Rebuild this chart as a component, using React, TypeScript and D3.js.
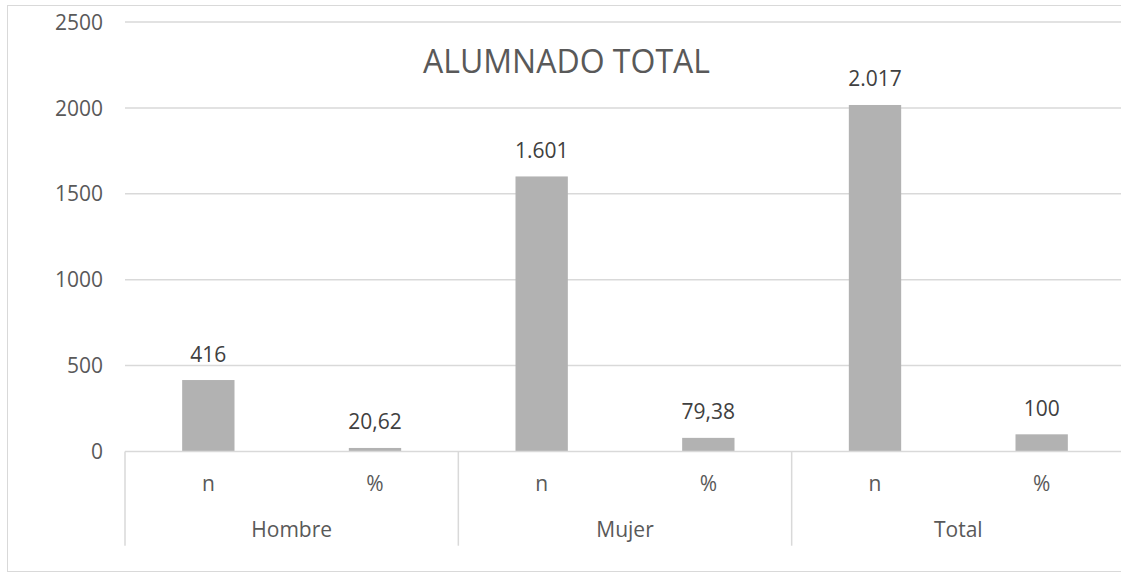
import React from 'react';
import * as d3 from 'd3';

// chart data
const groups = ['Hombre', 'Mujer', 'Total'];
const measures = ['n', '%'];
const countValues = [416, 1601, 2017];
const percentValues = [20.62, 79.38, 100];
const yTicks = [0, 500, 1000, 1500, 2000, 2500];
const title = 'ALUMNADO TOTAL';

const W = 1121;
const H = 572;
const margin = { left: 125, right: 1125, top: 22, bottom: 451.5 };

const es = d3.formatLocale({ decimal: ',', thousands: '.', grouping: [3], currency: ['', ''] });
const fmt = es.format(',.2~f');

export default function App() {
  // flatten groups x measures into one band per bar
  const rows = groups.flatMap((g, i) => [
    { group: g, measure: measures[0], value: countValues[i] },
    { group: g, measure: measures[1], value: percentValues[i] },
  ]);
  const keys = rows.map(r => r.group + '|' + r.measure);

  const x = d3.scaleBand<string>()
    .domain(keys)
    .range([margin.left, margin.right])
    .paddingInner(0.686)
    .paddingOuter(0.343);
  const gx = d3.scaleBand<string>()
    .domain(groups)
    .range([margin.left, margin.right]);
  const y = d3.scaleLinear().domain([0, 2500]).range([margin.bottom, margin.top]);

  const font = '"Open Sans", sans-serif';
  const step = x.step();

  return (
    <svg width={W} height={H} style={{ position: 'absolute', left: 0, top: 0, background: '#fff' }}>
      <rect x={7.5} y={5.5} width={1130} height={566} fill="#fff" stroke="#d9d9d9" strokeWidth={1} />

      <g>
        {yTicks.map(t => (
          <g key={t}>
            {t > 0 && (
              <line x1={margin.left} x2={margin.right} y1={y(t)} y2={y(t)} stroke="#d9d9d9" strokeWidth={1.5} />
            )}
            <text x={103} y={y(t)} dy={7.6} textAnchor="end" fontFamily={font} fontSize={21} fill="#595959">
              {t}
            </text>
          </g>
        ))}
      </g>

      <text x={566.5} y={72.7} textAnchor="middle" fontFamily={font} fontSize={32} fill="#595959">
        {title}
      </text>

      <g>
        {rows.map((r, i) => (
          <rect key={keys[i]} x={x(keys[i])} y={y(r.value)} width={x.bandwidth()} height={y(0) - y(r.value)} fill="#b2b2b2" />
        ))}
      </g>

      <g>
        {rows.map((r, i) => (
          <text key={keys[i]} x={(x(keys[i]) ?? 0) + x.bandwidth() / 2} y={y(r.value) - 18.5} textAnchor="middle"
            fontFamily={font} fontSize={21} fill="#404040">
            {fmt(r.value)}
          </text>
        ))}
      </g>

      <line x1={margin.left} x2={margin.right} y1={y(0)} y2={y(0)} stroke="#d9d9d9" strokeWidth={1.5} />

      <g>
        {groups.concat(['']).map((g, i) => {
          const xx = i < groups.length ? (gx(g) ?? 0) : margin.right;
          return <line key={'sep' + i} x1={xx} x2={xx} y1={y(0)} y2={545.7} stroke="#d9d9d9" strokeWidth={1.5} />;
        })}
        {rows.map((r, i) => (
          <text key={'m' + keys[i]} x={(x(keys[i]) ?? 0) + x.bandwidth() / 2} y={491} textAnchor="middle"
            fontFamily={font} fontSize={21} fill="#595959">
            {r.measure}
          </text>
        ))}
        {groups.map(g => (
          <text key={'g' + g} x={(gx(g) ?? 0) + gx.bandwidth() / 2} y={537} textAnchor="middle"
            fontFamily={font} fontSize={21} fill="#595959">
            {g}
          </text>
        ))}
      </g>
    </svg>
  );
}
